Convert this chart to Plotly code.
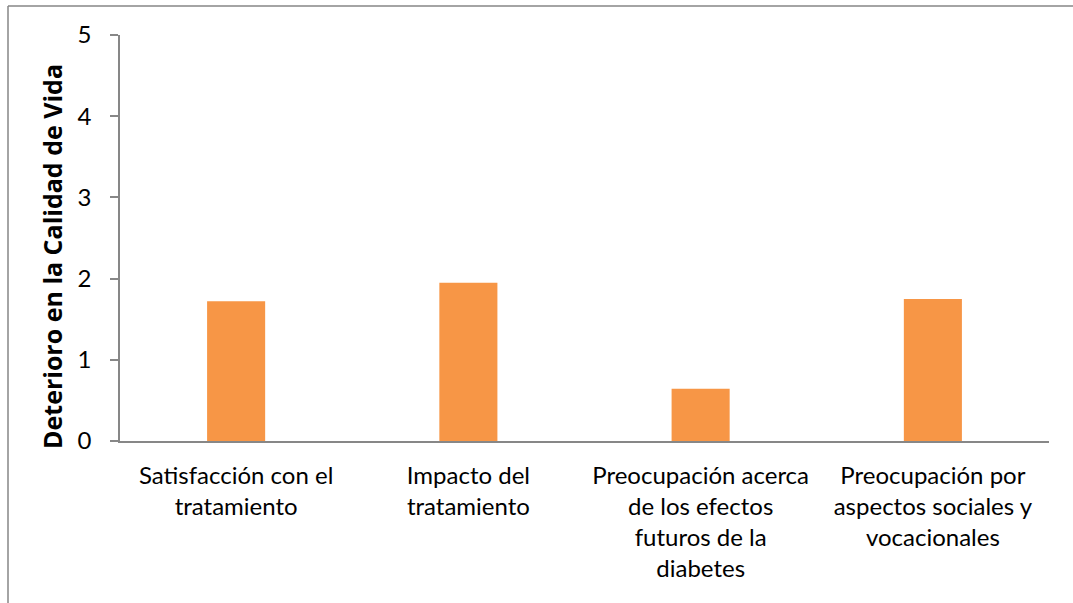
import plotly.graph_objects as go

categories = [
    "Satisfacción con el<br>tratamiento",
    "Impacto del<br>tratamiento",
    "Preocupación acerca<br>de los efectos<br>futuros de la<br>diabetes",
    "Preocupación por<br>aspectos sociales y<br>vocacionales",
]
values = [1.72, 1.95, 0.645, 1.75]
y_ticks = [0, 1, 2, 3, 4, 5]
y_title = "Deterioro en la Calidad de Vida"

W, H = 1073, 603
L, R, T, B = 120, 1049, 35, 441
pw, ph = R - L, B - T

def px_x(x):
    return (x - L) / pw

def px_y(y):
    return (B - y) / ph

fig = go.Figure(go.Bar(x=categories, y=values, marker=dict(color="#F79646", line=dict(width=0)),
                       width=0.25))

axis_col = "#878787"
font_fam = "Lato, 'Open Sans', sans-serif"

fig.update_layout(
    width=W, height=H,
    margin=dict(l=L, r=W - R, t=T, b=H - B, pad=0),
    paper_bgcolor="white", plot_bgcolor="white",
    showlegend=False,
    font=dict(family=font_fam, size=24, color="#000000"),
    xaxis=dict(showline=True, linecolor=axis_col, linewidth=1.5, ticks="", showgrid=False,
               tickfont=dict(size=24), ticklabelstandoff=12),
    yaxis=dict(range=[0, 5], tickvals=y_ticks, showline=True, linecolor=axis_col, linewidth=1.5,
               ticks="outside", ticklen=8, tickcolor=axis_col, tickwidth=1.5,
               showgrid=False, zeroline=False, tickfont=dict(size=24), ticklabelstandoff=14),
    annotations=[dict(text="<b>" + y_title + "</b>", xref="paper", yref="paper",
                      x=px_x(52), y=px_y(257), textangle=-90, showarrow=False,
                      xanchor="center", yanchor="middle",
                      font=dict(size=25, family="'Open Sans', sans-serif"))],
    shapes=[
        dict(type="line", xref="paper", yref="paper", x0=px_x(8), x1=px_x(1080),
             y0=px_y(6), y1=px_y(6), line=dict(color="#868686", width=1.5)),
        dict(type="line", xref="paper", yref="paper", x0=px_x(8), x1=px_x(8),
             y0=px_y(6), y1=px_y(610), line=dict(color="#868686", width=1.5)),
    ],
)

fig.write_html("out.html")
